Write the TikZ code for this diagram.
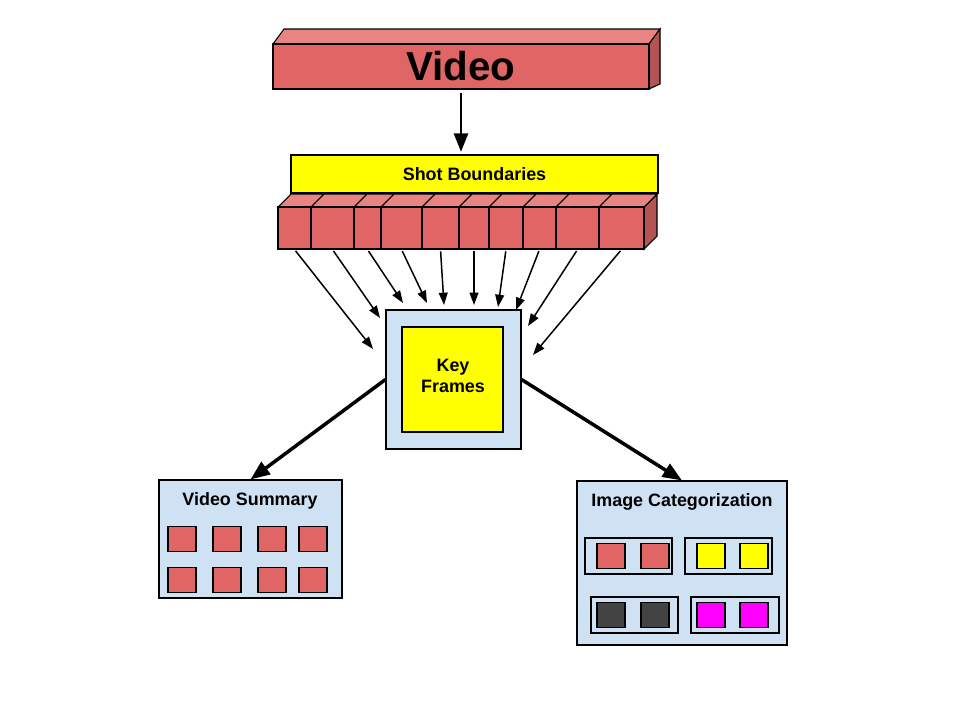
\documentclass[tikz,border=0pt]{standalone}
\usepackage{fontspec}
\setmainfont{Liberation Sans}
\usetikzlibrary{arrows.meta,fit}
\definecolor{vidred}{HTML}{E06666}
\definecolor{vidtop}{HTML}{E88583}
\definecolor{vidside}{HTML}{B35353}
\definecolor{paleblue}{HTML}{CFE2F3}
\definecolor{darkgrey}{HTML}{434343}
\definecolor{keyyellow}{HTML}{FFFF00}
\definecolor{catpink}{HTML}{FF00FF}
\tikzstyle{box}=[rectangle, draw=black, line width=0.6pt, inner sep=0pt]
\tikzstyle{seg}=[box, fill=vidred]
\tikzstyle{thumb}=[box, minimum width=0.56cm, minimum height=0.5cm]
\tikzstyle{title}=[align=center, font=\fontsize{10.2}{12}\selectfont\bfseries]
\tikzstyle{feed}=[-{Triangle[length=7pt,width=5pt]}, line width=0.85pt, shorten <=1pt]
\tikzstyle{fatarrow}=[-{Triangle[length=11pt,width=8.5pt]}, line width=2pt]
\tikzstyle{vidarrow}=[-{Triangle[length=10.5pt,width=8pt]}, line width=1.4pt, shorten <=2pt, shorten >=1.5pt]

\begin{document}
\begin{tikzpicture}[x=0.02cm,y=-0.02cm]
	\useasboundingbox (0,0) rectangle (960,720);

	% video block
	\filldraw[fill=vidtop, line width=0.6pt] (273,44) -- (284,29) -- (660,29) -- (649,44) -- cycle;
	\filldraw[fill=vidside, line width=0.6pt] (649,44) -- (660,29) -- (660,84) -- (649,89) -- cycle;
	\node[box, fill=vidred, fit={(273,44) (649,89)}] (video) {};
	\node[font=\fontsize{23}{26}\selectfont\bfseries] (vidtext) at (video.center) {Video};

	\node[box, fill=keyyellow, fit={(291,155) (658,193)}] (shots) {};
	\node[title] (shottext) at (shots.center) {Shot Boundaries};

	% shots
	\filldraw[fill=vidside, line width=0.6pt] (644,207) -- (657,194) -- (657,236) -- (644,249) -- cycle;
	\foreach \a/\b [count=\i] in {278/311,311/354,354/381,381/422,422/459,459/489,489/523,523/556,556/599,599/644}
	{
		\filldraw[fill=vidtop, line width=0.6pt] (\a,207) -- (\a+13,194) -- (\b+13,194) -- (\b,207) -- cycle;
		\node[seg, fit={(\a,207) (\b,249)}] (seg\i) {};
	}

	\draw[vidarrow] (video.south) -- (video.south |- shots.north);

	\node[box, fill=paleblue, fit={(386,310) (521,449)}] (kf) {};
	\node[box, fill=keyyellow, fit={(402,327) (503,432)}] (kfin) {};
	\node[title] (kftext) at (453,376) {Key\\Frames};

	\foreach \ex/\ey [count=\i] in {373/349,380/318,403/303,427/303,444/305,474/305,498/307,516/310,528/326,533/355}
	{
		\coordinate (end\i) at (\ex,\ey);
		\draw[feed] (seg\i.south) -- (end\i);
	}

	% outputs
	\node[box, fill=paleblue, fit={(159,480) (342,598)}] (summary) {};
	\node[title] (sumtitle) at (250,501) {Video Summary};
	\foreach \x [count=\i] in {182,227,272,313}
		\foreach \y [count=\j] in {539,580}
			\node[thumb, fill=vidred] (sum\i\j) at (\x,\y) {};

	\node[box, fill=paleblue, fit={(577,481) (787,645)}] (categ) {};
	\node[title] (cattitle) at (682,502) {Image Categorization};
	\node[box, fit={(585,538) (672,574)}] (grp1) {};
	\node[box, fit={(685,538) (772,574)}] (grp2) {};
	\node[box, fit={(591,597) (678,633)}] (grp3) {};
	\node[box, fit={(691,597) (779,633)}] (grp4) {};
	\foreach \x/\y/\c [count=\i] in {611/556/vidred,655/556/vidred,711/556/keyyellow,754/556/keyyellow,611/615/darkgrey,655/615/darkgrey,711/615/catpink,754/615/catpink}
		\node[thumb, fill=\c] (cat\i) at (\x,\y) {};

	\draw[fatarrow] (kf.west) -- (summary.north);
	\draw[fatarrow] (kf.east) -- (categ.north);
	
\end{tikzpicture}
\end{document}
